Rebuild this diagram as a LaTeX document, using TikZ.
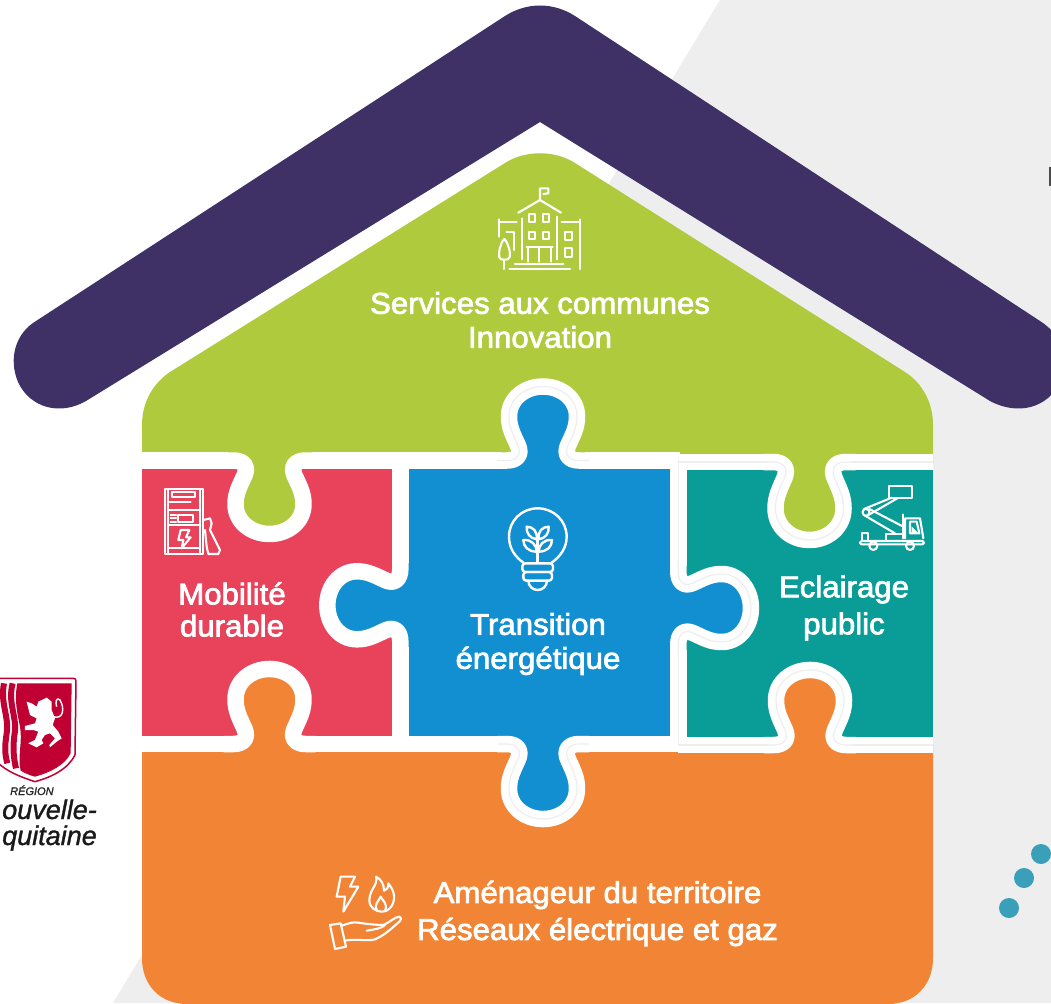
\documentclass[tikz,border=0pt]{standalone}
\usepackage{fontspec}
\newfontfamily\labelfont{Liberation Sans}[FakeBold=2.4,FakeStretch=1.04]
\newfontfamily\logofont{Liberation Sans}[FakeBold=1.2]
\definecolor{roofc}{HTML}{3F3165}
\definecolor{greenc}{HTML}{AFCB3D}
\definecolor{redc}{HTML}{E9425B}
\definecolor{bluec}{HTML}{118FD0}
\definecolor{tealc}{HTML}{0A9C97}
\definecolor{orangec}{HTML}{F18535}
\definecolor{greyc}{HTML}{EEEEEE}
\definecolor{dotc}{HTML}{3A9FB9}
\definecolor{logoc}{HTML}{C00033}
\tikzset{
  seam/.style={draw=white,line width=16.5pt,line cap=butt,line join=round},
  shade/.style={draw=greyc,line width=1.2pt,line cap=butt},
  tlabel/.style={text=white,align=center,font=\labelfont\fontsize{30}{34}\selectfont,inner sep=0pt},
  icon/.style={draw=white,line width=2.1pt,line join=round,line cap=round},
  iconb/.style={draw=white,line width=2.4pt,line join=round,line cap=round},
  dotm/.style={fill=dotc,draw=none}
}
\newcommand{\knobpath}{(-46,0) -- (-36,0) .. controls (-26,0) and (-21,6) .. (-25,15) .. controls (-30,26) and (-34,33) .. (-34,44) .. controls (-34,62) and (-18,74) .. (0,74) .. controls (18,74) and (34,62) .. (34,44) .. controls (34,33) and (30,26) .. (25,15) .. controls (21,6) and (26,0) .. (36,0) -- (46,0)}
\newcommand{\knobfill}[5]{\begin{scope}[shift={(#1,#2)},rotate=#3,x=1pt,y=#4pt]\fill[#5] \knobpath -- cycle;\end{scope}}
\newcommand{\knobline}[5]{\begin{scope}[shift={(#1,#2)},rotate=#3,x=1pt,y=#4pt]\draw[#5] \knobpath;\end{scope}}
\begin{document}
\begin{tikzpicture}[x=1pt,y=-1pt]
\useasboundingbox (0,0) rectangle (1051,1003);
\clip (0,0) rectangle (1051,1003);
\fill[white] (0,0) rectangle (1051,1003);
% grey background
\fill[greyc] (720,0) -- (1051,0) -- (1051,1003) -- (113,1003) -- cycle;
% cut-off mark at right
\fill[black!70] (1049,167) rectangle (1051,186);
% dots
\fill[dotm] (1041,854) circle (10pt);
\fill[dotm] (1024,878) circle (10pt);
\fill[dotm] (1009,908) circle (10pt);
% roof
\fill[roofc] (540,122) -- (86,401) .. controls (60,416) and (30,408) .. (18,382) .. controls (8,358) and (16,333) .. (36,321) -- (505,16) .. controls (527,2) and (553,2) .. (575,16) -- (1040,321) .. controls (1062,335) and (1070,358) .. (1060,382) .. controls (1048,408) and (1018,416) .. (990,401) -- cycle;
% pieces
\fill[redc] (142,462) rectangle (400.5,745);
\fill[tealc] (678,464) rectangle (933,746);
\fill[greenc] (142,462) -- (142,425) .. controls (142,400) and (155,382) .. (170,372) -- (505,163) .. controls (525,150) and (555,150) .. (575,163) -- (905,372) .. controls (922,383) and (933,402) .. (933,425) -- (933,464) -- (678,464) -- (678,462) -- cycle;
\fill[bluec] (400,460) rectangle (678.5,745);
\fill[orangec] (142,744) -- (933,744) -- (933,958) .. controls (933,985) and (915,1004) .. (888,1004) -- (187,1004) .. controls (160,1004) and (142,985) .. (142,958) -- cycle;
% knob fills
\knobfill{269.5}{460.5}{180}{0.993}{greenc}
\knobfill{543}{460.5}{0}{1}{bluec}
\knobfill{809.5}{462}{180}{1.054}{greenc}
\knobfill{269.5}{744}{0}{1.014}{orangec}
\knobfill{543}{744}{180}{1.014}{bluec}
\knobfill{810}{745}{0}{1.014}{orangec}
\knobfill{400.3}{605.3}{90}{0.986}{bluec}
\knobfill{678.3}{608}{-90}{0.982}{bluec}
% seams
\coordinate (s1) at (142,460.5);
\coordinate (s2) at (227.5,460.5);
\coordinate (s3) at (311.5,460.5);
\coordinate (s4) at (501,460.5);
\coordinate (s5) at (585,460.5);
\coordinate (s6) at (680,460.5);
\coordinate (s7) at (678,462);
\coordinate (s8) at (767.5,462);
\coordinate (s9) at (851.5,462);
\coordinate (s10) at (933,462);
\draw[seam] (s1) -- (s2) (s3) -- (s4) (s5) -- (s6) (s7) -- (s8) (s9) -- (s10);
\coordinate (b1) at (142,744);
\coordinate (b2) at (227.5,744);
\coordinate (b3) at (311.5,744);
\coordinate (b4) at (501,744);
\coordinate (b5) at (585,744);
\coordinate (b6) at (680,744);
\coordinate (b7) at (678,745);
\coordinate (b8) at (768,745);
\coordinate (b9) at (852,745);
\coordinate (b10) at (933,745);
\draw[seam] (b1) -- (b2) (b3) -- (b4) (b5) -- (b6) (b7) -- (b8) (b9) -- (b10);
\coordinate (v1) at (400.3,460);
\coordinate (v2) at (400.3,563.3);
\coordinate (v3) at (400.3,647.3);
\coordinate (v4) at (400.3,745);
\coordinate (w1) at (678.3,460);
\coordinate (w2) at (678.3,566);
\coordinate (w3) at (678.3,650);
\coordinate (w4) at (678.3,745);
\draw[seam] (v1) -- (v2) (v3) -- (v4) (w1) -- (w2) (w3) -- (w4);
\knobline{269.5}{460.5}{180}{0.993}{seam}
\knobline{543}{460.5}{0}{1}{seam}
\knobline{809.5}{462}{180}{1.054}{seam}
\knobline{269.5}{744}{0}{1.014}{seam}
\knobline{543}{744}{180}{1.014}{seam}
\knobline{810}{745}{0}{1.014}{seam}
\knobline{400.3}{605.3}{90}{0.986}{seam}
\knobline{678.3}{608}{-90}{0.982}{seam}
% faint creases
\knobline{543}{460.5}{0}{1}{shade}
\knobline{809.5}{462}{180}{1.054}{shade}
\knobline{543}{744}{180}{1.014}{shade}
\knobline{810}{745}{0}{1.014}{shade}
\knobline{678.3}{608}{-90}{0.982}{shade}
\draw[shade] (w1) -- (w2) (w3) -- (w4);
\draw[shade] (s7) -- (s8) (s9) -- (s10) (b7) -- (b8) (b9) -- (b10);
% labels
\node[tlabel] (services) at (540,320) {Services aux communes\\Innovation};
\node[tlabel] (mobilite) at (232,609.5) {Mobilité\\[-2pt]durable};
\node[tlabel] (transition) at (538,644) {Transition\\énergétique};
\node[tlabel] (eclairage) at (844,608) {Eclairage\\[3pt]public};
\node[tlabel] (amenageur) at (597.5,913.5) {Aménageur du territoire\\[3pt]Réseaux électrique et gaz};
% building icon
\begin{scope}[shift={(480,170)},x=0.3333pt,y=-0.3333pt]
\draw[icon] (115,128) -- (180,90) -- (243,128);
\draw[icon] (180,90) -- (180,55) -- (205,55) -- (205,70) -- (190,72);
\draw[icon] (125,145) -- (125,268) (230,140) -- (230,268);
\draw[icon] (148,132) rectangle (165,155) (190,132) rectangle (208,155) (148,185) rectangle (165,208) (190,185) rectangle (208,208);
\draw[icon] (140,232) -- (218,232) (145,232) -- (145,275) (212,232) -- (212,275) (178,232) -- (178,275);
\draw[icon] (105,282) -- (250,282) (88,297) -- (270,297);
\draw[icon] (245,155) -- (300,155) (300,148) -- (300,297);
\draw[icon] (255,185) rectangle (275,210) (255,235) rectangle (275,262);
\draw[icon] (57,148) -- (57,200) (57,155) -- (110,155) (80,185) -- (103,185) -- (103,240);
\draw[icon] (73,207) .. controls (60,220) and (55,250) .. (58,262) .. controls (60,272) and (86,272) .. (89,262) .. controls (92,250) and (86,220) .. (73,207);
\draw[icon] (73,272) -- (73,297);
\end{scope}
% fuel pump icon
\begin{scope}[shift={(150,480)},x=0.3333pt,y=-0.3333pt]
\draw[icon] (45,28) rectangle (160,222);
\draw[icon] (55,28) -- (55,222) (150,28) -- (150,222);
\draw[icon] (65,35) rectangle (135,50);
\draw[icon] (60,65) -- (122,65) (55,90) -- (150,90) (55,135) -- (150,135) (55,205) -- (150,205);
\draw[icon] (85,105) rectangle (130,125);
\draw[icon] (62,105) -- (78,105) (62,115) -- (78,115) (62,125) -- (78,125);
\draw[icon] (92,150) -- (118,150) -- (108,172) -- (122,172) -- (95,205) -- (100,180) -- (85,180) -- cycle;
\draw[icon] (160,120) -- (180,115) -- (185,130) -- (180,150) -- (210,210) -- (205,222) -- (175,222) -- (170,200) -- (165,150);
\end{scope}
% truck icon
\begin{scope}[shift={(850,475)},x=0.3333pt,y=-0.3333pt]
\draw[icon] (118,32) rectangle (185,68);
\draw[icon] (42,102) -- (125,68) (55,120) -- (142,70);
\draw[icon] (48,112) circle (3.5pt);
\draw[icon] (58,102) -- (160,155) (45,122) -- (135,175);
\draw[icon] (160,118) -- (160,190);
\draw[icon] (165,130) -- (210,130) -- (220,190) (165,130) -- (165,190);
\draw[icon] (180,140) -- (200,140) -- (208,175) -- (180,175) -- cycle;
\fill[white] (185,155) -- (205,175) -- (185,175) -- cycle;
\draw[icon,rounded corners=1.5pt] (30,198) rectangle (222,208);
\draw[icon] (35,198) -- (35,175) -- (55,175) -- (55,198);
\draw[icon] (108,198) -- (108,178) -- (158,178);
\draw[icon] (70,213) circle (4pt);
\draw[icon] (180,213) circle (4pt);
\end{scope}
% bulb icon
\begin{scope}[shift={(495,500)},x=0.3333pt,y=-0.3333pt]
\draw[iconb] (85,188) .. controls (60,170) and (42,145) .. (42,110) .. controls (42,62) and (80,25) .. (128,25) .. controls (176,25) and (215,62) .. (215,110) .. controls (215,145) and (195,170) .. (170,188);
\draw[iconb,rounded corners=3pt] (82,190) rectangle (174,216);
\draw[iconb,rounded corners=3pt] (85,216) rectangle (171,242);
\draw[iconb] (100,242) .. controls (100,260) and (115,270) .. (128,270) .. controls (141,270) and (156,260) .. (156,242);
\draw[iconb] (128,115) -- (128,188);
\draw[iconb] (125,118) .. controls (105,115) and (93,100) .. (95,80) .. controls (115,80) and (128,95) .. (125,118);
\draw[iconb] (131,118) .. controls (151,115) and (163,100) .. (161,80) .. controls (141,80) and (128,95) .. (131,118);
\draw[iconb] (125,155) .. controls (100,155) and (85,140) .. (85,120) .. controls (110,118) and (125,135) .. (125,155);
\draw[iconb] (131,155) .. controls (156,155) and (171,140) .. (171,120) .. controls (146,118) and (131,135) .. (131,155);
\end{scope}
% energy icons
\begin{scope}[shift={(320,860)},x=0.3333pt,y=-0.3333pt]
\draw[icon] (62,50) -- (105,50) -- (90,80) -- (115,80) -- (70,155) -- (75,110) -- (50,110) -- cycle;
\draw[icon] (168,50) .. controls (175,75) and (150,85) .. (148,120) .. controls (148,145) and (170,155) .. (185,155) .. controls (210,155) and (225,130) .. (222,105) .. controls (220,90) and (212,80) .. (205,70) .. controls (205,85) and (200,90) .. (192,92) .. controls (192,75) and (185,58) .. (168,50);
\draw[icon] (172,152) .. controls (160,135) and (175,125) .. (182,110) .. controls (187,122) and (205,130) .. (195,152);
\draw[icon] (30,195) -- (62,190) -- (78,260) -- (45,267) -- cycle;
\draw[icon] (65,197) .. controls (85,190) and (100,185) .. (115,188) .. controls (140,192) and (170,195) .. (190,195) .. controls (205,190) and (225,170) .. (238,170) .. controls (245,172) and (245,178) .. (240,183) .. controls (215,205) and (195,225) .. (165,238) .. controls (140,245) and (105,235) .. (75,242);
\draw[icon] (140,212) .. controls (165,208) and (185,205) .. (195,195);
\end{scope}
% regional logo
\begin{scope}[shift={(0,660)},x=0.3333pt,y=-0.3333pt]
\draw[draw=logoc,fill=white,line width=1.5pt] (-10,55) -- (220,55) .. controls (226,55) and (228,58) .. (228,64) -- (225,285) .. controls (205,325) and (160,350) .. (105,365) .. controls (60,350) and (20,335) .. (-10,305) -- cycle;
\fill[logoc] (52,70) -- (215,70) -- (212,280) .. controls (195,315) and (150,338) .. (105,350) .. controls (90,346) and (75,340) .. (62,332) .. controls (52,290) and (68,250) .. (60,200) .. controls (52,160) and (42,120) .. (52,70) -- cycle;
\draw[draw=logoc,line width=6pt,line cap=butt] (38,70) .. controls (22,130) and (52,170) .. (44,220) .. controls (38,260) and (40,290) .. (48,325);
\draw[draw=logoc,line width=6pt,line cap=butt] (12,70) .. controls (0,130) and (28,170) .. (20,220) .. controls (14,260) and (14,280) .. (22,310);
\fill[white] (115,125) -- (140,113) -- (155,125) -- (155,150) -- (165,175) -- (158,195) -- (175,215) -- (185,235) -- (170,245) -- (150,262) -- (148,255) -- (165,235) -- (150,220) -- (135,225) -- (125,240) -- (130,250) -- (110,262) -- (85,250) -- (105,240) -- (115,215) -- (100,210) -- (75,210) -- (75,198) -- (105,190) -- (110,175) -- (90,165) -- (85,145) -- (80,125) -- (95,130) -- (110,140) -- cycle;
\draw[draw=white,line width=1.4pt] (160,170) .. controls (190,180) and (195,145) .. (180,120) .. controls (170,110) and (165,125) .. (170,140);
\end{scope}
\node[anchor=base west,inner sep=0pt,text=black!85,font=\logofont\itshape\fontsize{11}{11}\selectfont] (region) at (10,795) {RÉGION};
\node[anchor=base east,inner sep=0pt,text=black!90,font=\logofont\itshape\fontsize{27}{27}\selectfont] (nouvelle) at (97,819) {ouvelle-};
\node[anchor=base east,inner sep=0pt,text=black!90,font=\logofont\itshape\fontsize{27}{27}\selectfont] (aquitaine) at (97,845) {quitaine};
\end{tikzpicture}
\end{document}
